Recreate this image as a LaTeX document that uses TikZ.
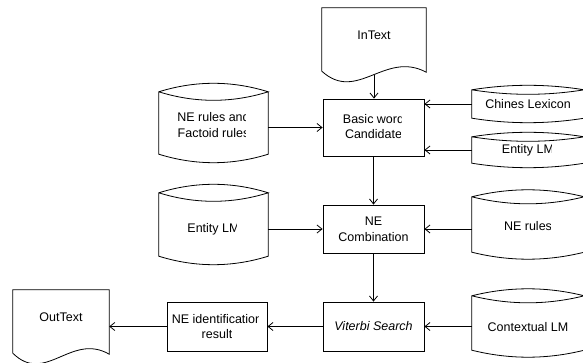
\documentclass[tikz,border=0pt]{standalone}
\usepackage{fontspec}
\setmainfont{Liberation Sans}
\usetikzlibrary{arrows.meta,calc}
\tikzset{
  shapeline/.style={draw=black, line width=0.8pt, line join=miter},
  procbox/.style={rectangle, draw=black, line width=0.8pt, inner sep=0pt},
  outlinebox/.style={rectangle, draw=none, inner sep=0pt},
  lbl/.style={inner sep=0pt, align=center, font=\fontsize{12.5}{15.5}\selectfont},
  conn/.style={draw=black, line width=0.8pt, -{Straight Barb[length=5pt,width=8pt]}},
}
% cylinder outline drawn on a named node: #1 node name, #2 sag of the arcs
\newcommand\cylout[2]{%
  \draw[shapeline] (#1.north west)
    .. controls ($(#1.north west)!1/3!(#1.north east)+(0,{-4/3*#2})$)
            and ($(#1.north west)!2/3!(#1.north east)+(0,{-4/3*#2})$) .. (#1.north east)
    .. controls ($(#1.north west)!2/3!(#1.north east)+(0,{4/3*#2})$)
            and ($(#1.north west)!1/3!(#1.north east)+(0,{4/3*#2})$) .. (#1.north west)
    -- (#1.south west)
    .. controls ($(#1.south west)!1/3!(#1.south east)+(0,{4/3*#2})$)
            and ($(#1.south west)!2/3!(#1.south east)+(0,{4/3*#2})$) .. (#1.south east)
    -- (#1.north east);}
% document outline (wavy bottom) drawn on a named node
\newcommand\docout[1]{%
  \draw[shapeline] (#1.south west) -- (#1.north west) -- (#1.north east)
    -- ($(#1.south east)+(0,1)$)
    .. controls ($(#1.south west)!0.606!(#1.south east)+(0,-21)$)
            and ($(#1.south west)!0.337!(#1.south east)+(0,32)$) .. (#1.south west) -- cycle;}
\begin{document}
\begin{tikzpicture}[x=1pt,y=-1pt]
\path[use as bounding box] (0,0) rectangle (583,363);

% ---- shapes ----
\node[outlinebox, minimum width=104pt, minimum height=63pt] (intext) at (374,39.5) {};
\node[outlinebox, minimum width=96pt, minimum height=63pt] (outtext) at (61,321.5) {};
\node[procbox, minimum width=101pt, minimum height=57pt] (basic) at (373.5,127.5) {};
\node[procbox, minimum width=101pt, minimum height=48pt] (comb) at (373.5,229) {};
\node[procbox, minimum width=101pt, minimum height=49pt] (vit) at (373.5,326.5) {};
\node[procbox, minimum width=100pt, minimum height=49pt] (neid) at (217,326.5) {};
\node[outlinebox, minimum width=109pt, minimum height=62pt] (ner) at (213.5,123) {};
\node[outlinebox, minimum width=109pt, minimum height=63pt] (elmL) at (213.5,224.5) {};
\node[outlinebox, minimum width=112pt, minimum height=28pt] (lex) at (528,104) {};
\node[outlinebox, minimum width=112pt, minimum height=26pt] (elmR) at (528,150) {};
\node[outlinebox, minimum width=112pt, minimum height=55pt] (nerR) at (528,224.5) {};
\node[outlinebox, minimum width=112pt, minimum height=54pt] (ctx) at (528,323) {};

\docout{intext}
\docout{outtext}
\cylout{ner}{8.5}
\cylout{elmL}{8.5}
\cylout{lex}{4.5}
\cylout{elmR}{4.5}
\cylout{nerR}{7}
\cylout{ctx}{7}

% ---- texts ----
\node[lbl] (t-intext) at (374,35) {InText};
\node[lbl] (t-outtext) at (61,317) {OutText};
\node[lbl] (t-comb) at (373.5,229.2) {NE\\Combination};
\node[lbl, font=\fontsize{12.5}{15.5}\selectfont\itshape] (t-vit) at (373.5,326.5) {Viterbi Search};
\node[lbl] (t-ctx) at (528,327) {Contextual LM};
\begin{scope}
  \clip (323,99) rectangle (401.5,126.3) (323,126.3) rectangle (400,156);
  \node[lbl] (t-basic) at (373.5,126.3) {Basic word\\Candidate};
\end{scope}
\begin{scope}
  \clip (159,95) rectangle (245.5,125) (159,125) rectangle (245.5,160);
  \node[lbl] (t-ner) at (213.5,125) {NE rules and\\Factoid rules};
\end{scope}
\begin{scope}
  \clip (159,195) rectangle (236.5,260);
  \node[lbl] (t-elmL) at (213.5,229) {Entity LM};
\end{scope}
\begin{scope}
  \clip (472,90) rectangle (569,118);
  \node[lbl] (t-lex) at (528,104) {Chines Lexicon};
\end{scope}
\begin{scope}
  \clip (472,137) rectangle (551,163);
  \node[lbl] (t-elmR) at (528,150) {Entity LM};
\end{scope}
\begin{scope}
  \clip (472,200) rectangle (550,255);
  \node[lbl] (t-nerR) at (528,226.5) {NE rules};
\end{scope}
\begin{scope}
  \clip (167,302) rectangle (258.5,326.5) (167,326.5) rectangle (231,351);
  \node[lbl] (t-neid) at (217,326.5) {NE identification\\result};
\end{scope}

% ---- connectors ----
\coordinate (intext-w) at ($(intext.south)+(0,3.5)$);
\draw[conn] (intext-w) -- (intext-w |- basic.north);
\draw[conn] (ner.east |- basic) -- (basic);
\draw[conn] (lex.west) -- (lex.west -| basic.east);
\draw[conn] (elmR.west) -- (elmR.west -| basic.east);
\draw[conn] (basic) -- (comb);
\draw[conn] (elmL.east |- comb) -- (comb);
\draw[conn] (nerR.west |- comb) -- (comb);
\draw[conn] (comb) -- (vit);
\draw[conn] (ctx.west |- vit) -- (vit);
\draw[conn] (vit) -- (neid);
\draw[conn] (neid.west) -- (neid.west -| outtext.east);
\end{tikzpicture}
\end{document}
